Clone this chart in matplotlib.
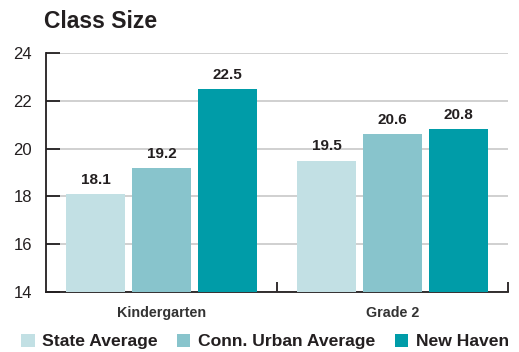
import matplotlib.pyplot as plt
from matplotlib.patches import Patch
import numpy as np

plt.rcParams['font.family'] = ['Liberation Sans', 'DejaVu Sans']

grades = ['Kindergarten', 'Grade 2']
series = ['State Average', 'Conn. Urban Average', 'New Haven']
state_avg = [18.1, 19.5]
urban_avg = [19.2, 20.6]
new_haven = [22.5, 20.8]
colors = ['#c2e0e4', '#88c4cc', '#009ca8']

fig = plt.figure(figsize=(5.19, 3.52), dpi=100)
ax = fig.add_axes([0.0886, 0.1705, 0.8902, 0.679])

x = np.arange(len(grades))
w = 0.255
step = 0.286
for i, (vals, c) in enumerate(zip([state_avg, urban_avg, new_haven], colors)):
    bars = ax.bar(x + (i - 1) * step, vals, width=w, color=c, zorder=3)
    for b, v in zip(bars, vals):
        ax.text(b.get_x() + b.get_width() / 2, v + 0.3, f'{v:.1f}',
                ha='center', va='bottom', fontsize=11, fontweight='bold',
                color='#231f20', zorder=4)

ax.set_xlim(-0.5, 1.5)
ax.set_ylim(14, 24)
ax.set_yticks([14, 16, 18, 20, 22, 24])
ax.yaxis.grid(True, color='#c8c8c8', linewidth=1.2, zorder=0)
ax.tick_params(axis='y', direction='in', length=10, width=1.3, color='#231f20',
               labelsize=12, labelcolor='#231f20', pad=10)

# category labels sit under the group centres, separator ticks between groups
ax.set_xticks([0.5, 1.5])
ax.set_xticklabels([])
ax.tick_params(axis='x', direction='in', length=7, width=1.3, color='#231f20')
for xi, g in zip(x, grades):
    ax.text(xi, 13.4, g, ha='center', va='top', fontsize=10.3, fontweight='bold',
            color='#333333', transform=ax.transData)

for s in ['top', 'right']:
    ax.spines[s].set_visible(False)
for s in ['left', 'bottom']:
    ax.spines[s].set_linewidth(1.3)
    ax.spines[s].set_color('#231f20')

fig.text(0.085, 0.94, 'Class Size', fontsize=16.5, fontweight='bold',
         color='#231f20', ha='left', va='center')

handles = [Patch(facecolor=c, edgecolor='none') for c in colors]
fig.legend(handles, series, loc='center', bbox_to_anchor=(0.511, 0.03), ncol=3,
           frameon=False, handlelength=0.75, handleheight=0.75, handletextpad=0.45,
           columnspacing=1.1, borderaxespad=0,
           prop={'size': 12.6, 'weight': 'bold'}, labelcolor='#231f20')

fig.savefig('out.png', dpi=100)
